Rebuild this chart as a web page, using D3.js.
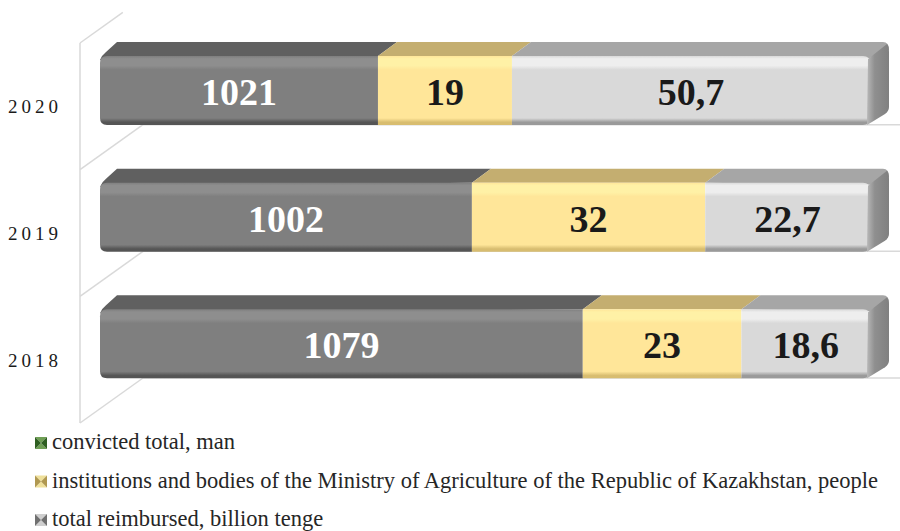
<!DOCTYPE html>
<html>
<head>
<meta charset="utf-8">
<script src="https://cdn.jsdelivr.net/npm/d3@7"></script>
<style>
  body { margin: 0; background: #fff; }
  svg { display: block; }
  text { font-family: "Liberation Serif", "Times New Roman", serif; }
</style>
</head>
<body>
<div id="chart"></div>
<script>
(function(){

    // data
    var years = ["2020", "2019", "2018"];
    var seriesNames = [
        "convicted total, man",
        "institutions and bodies of the Ministry of Agriculture of the Republic of Kazakhstan, people",
        "total reimbursed, billion tenge"
    ];
    // printed values
    var convicted = ["1021", "1002", "1079"];
    var institutions = ["19", "32", "23"];
    var reimbursed = ["50,7", "22,7", "18,6"];
    // share of the bar each segment takes (100% stacked)
    var convictedShare = [0.361, 0.483, 0.627];
    var institutionsShare = [0.174, 0.303, 0.206];
    var reimbursedShare = [0.465, 0.214, 0.167];

    var width = 900, height = 531;
    var svg = d3.select("#chart").append("svg")
        .attr("width", width)
        .attr("height", height);

    var defs = svg.append("defs");

    // colours: front, top, highlight, bottom shade, text
    var styles = [
        {front: "#7f7f7f", top: "#606060", light: "#8e8e8e", dark: "#555555", text: "#ffffff"},
        {front: "#ffe699", top: "#c4ae70", light: "#fff1a6", dark: "#d8bd70", text: "#1a1a1a"},
        {front: "#d9d9d9", top: "#a6a6a6", light: "#eeeeee", dark: "#9a9a9a", text: "#1a1a1a"}
    ];

    styles.forEach(function(s, i){
        var g = defs.append("linearGradient")
            .attr("id", "front" + i)
            .attr("x1", 0).attr("y1", 0).attr("x2", 0).attr("y2", 1);
        [[0, s.front], [0.04, s.light], [0.14, s.light], [0.2, s.front],
         [0.9, s.front], [0.96, s.dark], [1, s.dark]].forEach(function(st){
            g.append("stop").attr("offset", st[0]).attr("stop-color", st[1]);
        });
    });
    var endG = defs.append("linearGradient")
        .attr("id", "endface")
        .attr("x1", 0).attr("y1", 0).attr("x2", 1).attr("y2", 0);
    [[0, "#b8b8b8"], [0.35, "#8f8f8f"], [1, "#808080"]].forEach(function(st){
        endG.append("stop").attr("offset", st[0]).attr("stop-color", st[1]);
    });

    // scales
    var y = d3.scaleBand().domain(years).range([43, 423]);
    var x = d3.scaleLinear().domain([0, 1]).range([100, 870]);

    var faceOffset = 13, faceH = 69;
    var bx = 19, by = -14;          // bar depth
    var wx = 63, wy = -45;          // wall depth

    // walls / gridlines
    var grid = svg.append("g")
        .attr("stroke", "#d9d9d9")
        .attr("stroke-width", 1.5)
        .attr("fill", "none");
    var bounds = years.map(function(d){ return y(d); }).concat([y.range()[1]]);
    grid.append("line")
        .attr("x1", x.range()[0] - 20).attr("y1", bounds[0])
        .attr("x2", x.range()[0] - 20).attr("y2", bounds[3]);
    bounds.forEach(function(b, i){
        var x0 = x.range()[0] - 20;
        grid.append("line")
            .attr("x1", x0).attr("y1", b)
            .attr("x2", x0 + (i === 0 ? wx * 0.68 : wx)).attr("y2", b + (i === 0 ? wy * 0.68 : wy));
        if (i > 0) {
            grid.append("line")
                .attr("x1", x0 + wx).attr("y1", b + wy)
                .attr("x2", width).attr("y2", b + wy);
        }
    });

    // build stacked rows
    var rows = years.map(function(yr, i){
        var vals = [convictedShare[i], institutionsShare[i], reimbursedShare[i]];
        var labels = [convicted[i], institutions[i], reimbursed[i]];
        var acc = 0;
        return {year: yr, segs: vals.map(function(v, k){
            var s = {k: k, x0: acc, x1: acc + v, label: labels[k]};
            acc += v;
            return s;
        })};
    });

    var bars = svg.append("g").selectAll("g.bar")
        .data(rows).enter().append("g")
        .attr("class", "bar");

    bars.each(function(row){
        var g = d3.select(this);
        var t = y(row.year) + faceOffset;
        var b = t + faceH;
        var r = 7;

        row.segs.forEach(function(s){
            var X0 = x(s.x0), X1 = x(s.x1);
            var st = styles[s.k];
            var first = s.k === 0, last = s.k === 2;

            // top face
            var p = d3.path();
            if (first) {
                p.moveTo(X0, t + 4);
                p.quadraticCurveTo(X0 + 2, t - 1, X0 + 6, t - 4);
                p.lineTo(X0 + bx - 2, t + by);
            } else {
                p.moveTo(X0, t);
                p.lineTo(X0 + bx, t + by);
            }
            if (last) {
                p.lineTo(X1 + bx - 6, t + by);
                p.quadraticCurveTo(X1 + bx, t + by, X1 + bx, t + by + 8);
                p.lineTo(X1, t + 2);
            } else {
                p.lineTo(X1 + bx, t + by);
                p.lineTo(X1, t);
            }
            p.closePath();
            g.append("path").attr("d", p.toString()).attr("fill", st.top);

            // front face
            var f = d3.path();
            if (first) {
                f.moveTo(X0 + r, t);
                f.lineTo(X1, t);
                f.lineTo(X1, b);
                f.lineTo(X0 + r, b);
                f.quadraticCurveTo(X0, b, X0, b - r);
                f.lineTo(X0, t + r);
                f.quadraticCurveTo(X0, t, X0 + r, t);
            } else if (last) {
                f.moveTo(X0, t);
                f.lineTo(X1 - r, t);
                f.quadraticCurveTo(X1, t, X1, t + r);
                f.lineTo(X1, b - r);
                f.quadraticCurveTo(X1, b, X1 - r, b);
                f.lineTo(X0, b);
            } else {
                f.moveTo(X0, t);
                f.lineTo(X1, t);
                f.lineTo(X1, b);
                f.lineTo(X0, b);
            }
            f.closePath();
            g.append("path").attr("d", f.toString()).attr("fill", "url(#front" + s.k + ")");

            // right end of the bar
            if (last) {
                var e = d3.path();
                e.moveTo(X1 - 2, t + 3);
                e.lineTo(X1 + bx - 2, t + by + 2);
                e.quadraticCurveTo(X1 + bx, t + by + 4, X1 + bx, t + by + 10);
                e.lineTo(X1 + bx, b + by - 4);
                e.quadraticCurveTo(X1 + bx, b + by, X1 + bx - 4, b + by + 3);
                e.lineTo(X1 - 3, b);
                e.closePath();
                g.append("path").attr("d", e.toString()).attr("fill", "url(#endface)");
            }

            g.append("text")
                .attr("x", (X0 + X1) / 2)
                .attr("y", t + 49)
                .attr("text-anchor", "middle")
                .attr("font-weight", "bold")
                .attr("font-size", "38px")
                .attr("fill", st.text)
                .text(s.label);
        });
    });

    // category labels
    svg.append("g").selectAll("text")
        .data(years).enter().append("text")
        .attr("x", 62)
        .attr("y", function(d){ return y(d) + y.bandwidth() / 2 + 7; })
        .attr("text-anchor", "end")
        .attr("font-size", "19px")
        .attr("letter-spacing", "4px")
        .attr("fill", "#1a1a1a")
        .text(function(d){ return d; });

    // legend
    var markerColors = [
        {a: "#6f9f55", b: "#2f5f22"},
        {a: "#efe09a", b: "#b09850"},
        {a: "#cfcfcf", b: "#707070"}
    ];
    var legend = svg.append("g").selectAll("g")
        .data(seriesNames).enter().append("g")
        .attr("transform", function(d, i){ return "translate(35," + (443 + i * 38.5) + ")"; });

    legend.each(function(d, i){
        var g = d3.select(this);
        var c = markerColors[i], s = 12, h = s / 2;
        var tri = [
            [[0, -h], [s, -h], [h, 0], c.a],
            [[0, h], [s, h], [h, 0], c.a],
            [[0, -h], [0, h], [h, 0], c.b],
            [[s, -h], [s, h], [h, 0], c.b]
        ];
        tri.forEach(function(tr){
            g.append("path")
                .attr("d", "M" + tr[0] + "L" + tr[1] + "L" + tr[2] + "Z")
                .attr("fill", tr[3]);
        });
        g.append("text")
            .attr("x", 17)
            .attr("y", 6)
            .attr("font-size", "22.5px")
            .attr("fill", "#262626")
            .text(d);
    });

})();
</script>
</body>
</html>
